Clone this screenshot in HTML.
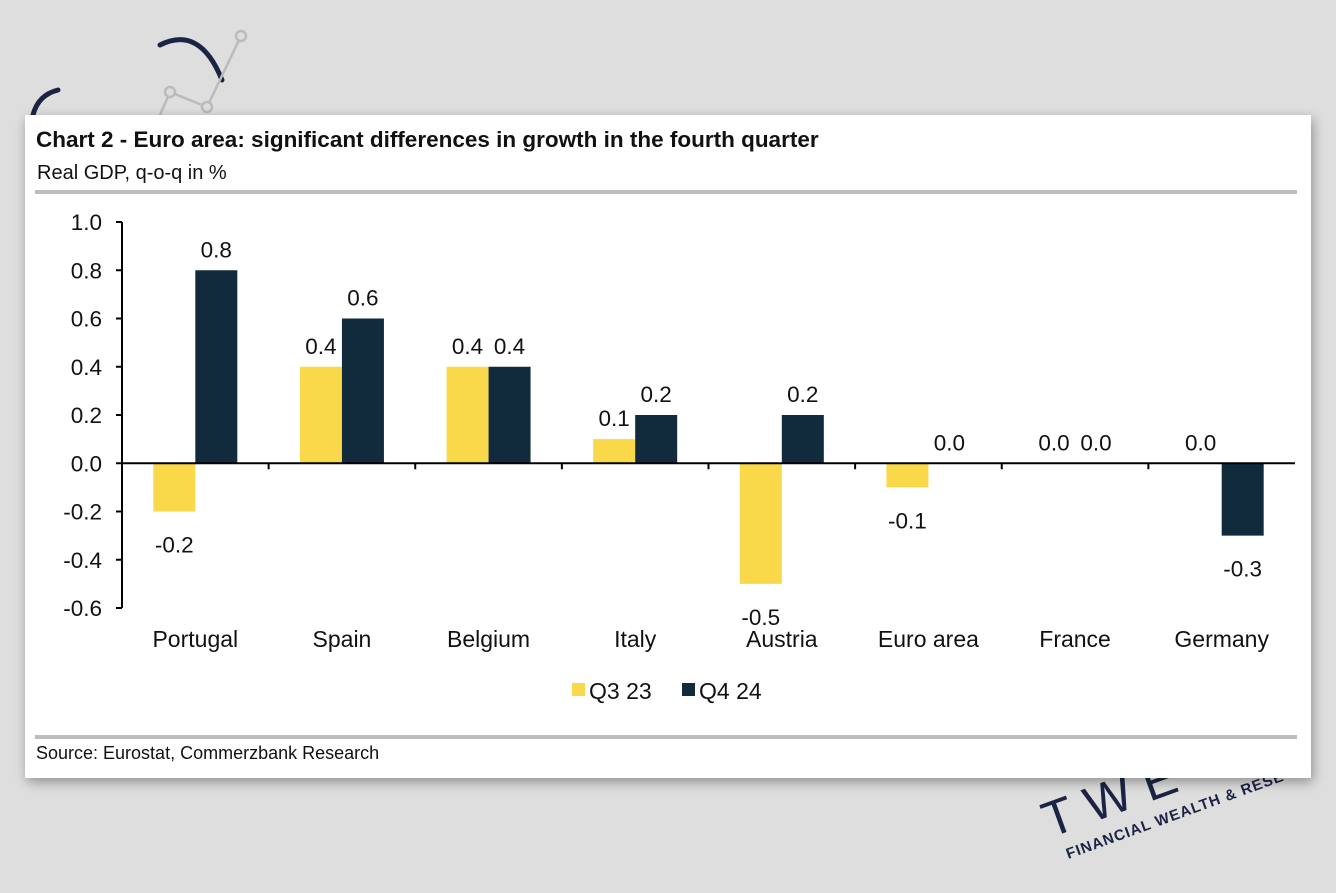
<!DOCTYPE html>
<html><head><meta charset="utf-8">
<style>
html,body{margin:0;padding:0;width:1336px;height:893px;overflow:hidden;background:#dedede;font-family:"Liberation Sans",sans-serif;}
#root{position:relative;width:1336px;height:893px;}
svg{position:absolute;left:0;top:0;}
</style></head>
<body>
<div id="root">
<svg id="chart" width="1336" height="893">
  <defs>
    <filter id="sh" x="-5%" y="-5%" width="110%" height="115%"><feGaussianBlur stdDeviation="6"/></filter>
  </defs>
  <g>
    <path d="M160,45 Q200,25 222,80" stroke="#1b2444" stroke-width="5" fill="none" stroke-linecap="round"/>
    <path d="M58,90 Q38,95 33,115" stroke="#1b2444" stroke-width="5" fill="none" stroke-linecap="round"/>
    <path d="M170,92 L207,107 L241,36 M170,92 L160,115" stroke="#bbb" stroke-width="2.5" fill="none"/>
    <circle cx="170" cy="92" r="5" fill="#ddd" stroke="#bbb" stroke-width="2.5"/>
    <circle cx="207" cy="107" r="5" fill="#ddd" stroke="#bbb" stroke-width="2.5"/>
    <circle cx="241" cy="36" r="5" fill="#ddd" stroke="#bbb" stroke-width="2.5"/>
  </g>
  <g transform="translate(1050,838) rotate(-20)">
    <text x="0" y="0" font-size="50" fill="#1b2444" letter-spacing="14">TWE</text>
    <text x="10" y="26" font-size="15" font-weight="bold" fill="#1b2444" letter-spacing="1">FINANCIAL WEALTH &amp; RESE</text>
  </g>
  <rect x="27" y="119" width="1286" height="663" fill="#000" opacity="0.35" filter="url(#sh)"/>
  <rect x="25" y="115" width="1286" height="663" fill="#fff"/>
  <text x="36" y="147" font-size="22.5" font-weight="bold" fill="#111">Chart 2 - Euro area: significant differences in growth in the fourth quarter</text>
  <text x="37" y="179" font-size="20" fill="#111">Real GDP, q-o-q in %</text>
  <rect x="35" y="190" width="1262" height="4" fill="#bdbdbd"/>
  <rect x="35" y="735" width="1262" height="4" fill="#bdbdbd"/>
  <text x="36" y="759" font-size="18" fill="#111">Source: Eurostat, Commerzbank Research</text>
  <g id="plot"></g>
  <g>
    <rect x="572" y="683" width="13" height="13" fill="#f9d84a"/>
    <text x="589" y="699" font-size="23" fill="#111">Q3 23</text>
    <rect x="682" y="683" width="13" height="13" fill="#112b3c"/>
    <text x="699" y="699" font-size="23" fill="#111">Q4 24</text>
  </g>
</svg>
</div>
<script>
const categories = ["Portugal","Spain","Belgium","Italy","Austria","Euro area","France","Germany"];
const q3Values = [-0.2,0.4,0.4,0.1,-0.5,-0.1,0.0,0.0];
const q4Values = [0.8,0.6,0.4,0.2,0.2,0.0,0.0,-0.3];
const yTicks = [1.0,0.8,0.6,0.4,0.2,0.0,-0.2,-0.4,-0.6];

const NS="http://www.w3.org/2000/svg";
const g=document.getElementById('plot');
const x0=122, x1=1295, yTop=222, yBot=608, vMax=1.0, vMin=-0.6;
const y=v=>yTop+(vMax-v)/(vMax-vMin)*(yBot-yTop);
const band=(x1-x0)/categories.length;
const cx=i=>x0+band*(i+0.5);
const bw=42;
function mk(tag,attrs){const e=document.createElementNS(NS,tag);for(const k in attrs)e.setAttribute(k,attrs[k]);g.appendChild(e);return e;}
function fmt(v){return (v<0?"-":"")+Math.abs(v).toFixed(1);}

let ax=mk('line',{x1:x0,x2:x0,y1:yTop,y2:yBot,stroke:'#000','stroke-width':2});


yTicks.forEach(t=>{
  const tk=mk('line',{x1:x0-6,x2:x0,y1:y(t),y2:y(t),stroke:'#000','stroke-width':2});
  
  
  const tl=mk('text',{x:x0-20,y:y(t)+8,'text-anchor':'end','font-size':22.5,fill:'#111'});
  tl.textContent=t.toFixed(1);
  
  
});
categories.forEach((c,i)=>{
  const c0=cx(i);
  [[q3Values[i],c0-bw,'#f9d84a','q3'],[q4Values[i],c0,'#112b3c','q4']].forEach(([v,bx,col,s])=>{
    const top=Math.min(y(v),y(0)), h=Math.abs(y(v)-y(0));
    const r=mk('rect',{x:bx,y:top,width:bw,height:h,fill:col});
    
    
    const ly=v>=0? y(v)-13 : y(v)+41;
    const lt=mk('text',{x:bx+bw/2,y:ly,'text-anchor':'middle','font-size':22.5,fill:'#111'});
    lt.textContent=fmt(v);
    
    
  });
  const cl=mk('text',{x:c0,y:647,'text-anchor':'middle','font-size':23,fill:'#111'});
  cl.textContent=c;
  
  
  if(i>0){const sep=mk('line',{x1:x0+band*i,x2:x0+band*i,y1:y(0),y2:y(0)+6,stroke:'#000','stroke-width':2});
    
    }
});
const zx=mk('line',{x1:x0,x2:x1,y1:y(0),y2:y(0),stroke:'#000','stroke-width':2});


</script>
</body></html>
